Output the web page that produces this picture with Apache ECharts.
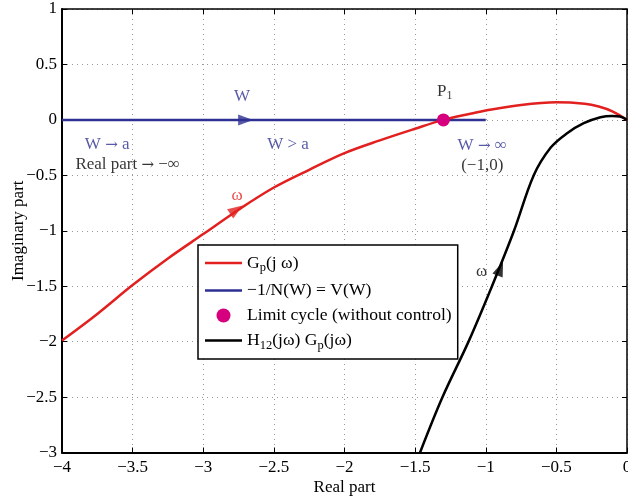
<!DOCTYPE html>
<html>
<head>
<meta charset="utf-8">
<script src="https://cdn.jsdelivr.net/npm/echarts@6/dist/echarts.min.js"></script>
<style>
	html, body { margin: 0; padding: 0; background: #fff; }
	#chart { width: 628px; height: 498px; }
</style>
</head>
<body>
<div id="chart"></div>
<script>
// 曲线数据 (实部, 虚部)
var gpData = [[-4, -1.99], [-3.75, -1.75], [-3.5, -1.49], [-3.25, -1.25], [-3, -1.03], [-2.75, -0.81],
	[-2.5, -0.61], [-2.25, -0.45], [-2, -0.30], [-1.75, -0.185], [-1.5, -0.08], [-1.3, 0], [-1.1, 0.058],
	[-1, 0.085], [-0.75, 0.135], [-0.5, 0.158], [-0.3, 0.145], [-0.2, 0.12], [-0.1, 0.075], [0, 0]];
var vwData = [[-4, 0], [-1, 0]];
var limitCycle = [[-1.3, 0]];
var hgData = [[-1.465, -3], [-1.306, -2.5], [-1.122, -2], [-0.956, -1.5], [-0.80, -1], [-0.66, -0.5],
	[-0.54, -0.25], [-0.424, -0.12], [-0.306, -0.03], [-0.188, 0.024], [-0.105, 0.036], [-0.05, 0.03], [0, 0]];

// 方向箭头位置
var gpArrow = [-2.765, -0.81];
var vwArrow = [-2.70, 0];
var hgArrow = [-0.897, -1.34];

// 标注文字
var notes = [
	{text: 'W', pos: [-2.725, 0.207], color: '#2e3192'},
	{text: 'W {a|→} a', pos: [-3.68, -0.225], color: '#2e3192'},
	{text: 'Real part {a|→} −∞', pos: [-3.535, -0.405], color: '#000'},
	{text: 'W > a', pos: [-2.40, -0.225], color: '#2e3192'},
	{text: 'W {a|→} ∞', pos: [-1.025, -0.235], color: '#2e3192'},
	{text: '(−1,0)', pos: [-1.025, -0.415], color: '#000'},
	{text: 'ω', pos: [-2.76, -0.685], color: '#e2201f'},
	{text: 'ω', pos: [-1.03, -1.37], color: '#000'},
	{text: '{n|P}{s|1}', pos: [-1.29, 0.26], color: '#000'}
];

// 坐标刻度
var xMin = -4, xMax = 0, yMin = -3, yMax = 1, step = 0.5;

var FONT = '"Liberation Serif", "DejaVu Serif", serif';
var FS = 17;
var RED = '#e2201f', BLUE = '#2e3192', MAG = '#d6007f';

function fmt(v) {
	return String(v).replace('-', '−');
}

var richSub = {
	n: {fontFamily: FONT, fontSize: 17.6, color: '#000'},
	s: {fontFamily: FONT, fontSize: 12.5, color: '#000', padding: [10, 0, 0, 0]}
};

var legendText = {
	'Gp': '{n|G}{s|p}{n|(j ω)}',
	'V': '{n|−1/N(W) = V(W)}',
	'LC': '{n|Limit cycle (without control)}',
	'H': '{n|H}{s|12}{n|(jω) G}{s|p}{n|(jω)}'
};

// 图例里的线段图标 (两角的小点只是撑开范围)
var lineIcon = 'path://M0,0 L0.01,0 L0.01,0.01 Z M0,5.8 L37,5.8 L37,8.2 L0,8.2 Z M36.99,13.99 L37,13.99 L37,14 Z';

var myChart = echarts.init(document.getElementById('chart'));

var axisBase = {
	type: 'value',
	interval: step,
	nameMoveOverlap: false,
	axisLine: {show: true, onZero: false, lineStyle: {color: '#000', width: 2}},
	axisTick: {show: true, inside: true, length: 5, lineStyle: {color: '#000', width: 1}},
	splitLine: {show: true, lineStyle: {color: '#999', type: [1, 4], width: 1}},
	axisLabel: {color: '#000', fontFamily: FONT, fontSize: FS, formatter: fmt},
	nameTextStyle: {color: '#000', fontFamily: FONT, fontSize: FS}
};

function axis(extra) {
	return Object.assign({}, axisBase, extra);
}

var option = {
	animation: false,
	textStyle: {fontFamily: FONT},
	grid: {left: 62, top: 9, right: 1, bottom: 45.5, outerBoundsMode: 'none', containLabel: false},
	xAxis: [
		axis({
			min: xMin, max: xMax, position: 'bottom',
			name: 'Real part', nameLocation: 'middle', nameGap: 27,
			axisLabel: Object.assign({}, axisBase.axisLabel, {margin: 7})
		}),
		axis({
			min: xMin, max: xMax, position: 'top',
			axisLine: {show: true, onZero: false, lineStyle: {color: '#000', width: 1.5}},
			axisLabel: {show: false}, splitLine: {show: false}
		})
	],
	yAxis: [
		axis({
			min: yMin, max: yMax, position: 'left',
			name: 'Imaginary part', nameLocation: 'middle', nameGap: 35,
			axisLabel: Object.assign({}, axisBase.axisLabel, {margin: 5})
		}),
		axis({
			min: yMin, max: yMax, position: 'right',
			axisLine: {show: true, onZero: false, lineStyle: {color: '#000', width: 1.5}},
			axisLabel: {show: false}, splitLine: {show: false}
		})
	],
	legend: {
		orient: 'vertical',
		left: 198,
		top: 245,
		padding: [9, 6, 7, 7],
		itemGap: 7,
		itemWidth: 37,
		itemHeight: 14,
		backgroundColor: '#fff',
		borderColor: '#000',
		borderWidth: 1.5,
		borderRadius: 0,
		data: [
			{name: 'Gp', icon: lineIcon},
			{name: 'V', icon: lineIcon},
			{name: 'LC', icon: 'circle'},
			{name: 'H', icon: lineIcon}
		],
		formatter: function(name) {
			return legendText[name];
		},
		textStyle: {rich: richSub, color: '#000'}
	},
	series: [
		{
			id: 'gp', name: 'Gp', type: 'line', data: gpData, smooth: 0.35, symbol: 'none',
			lineStyle: {color: RED, width: 2.5}, itemStyle: {color: RED}, z: 3
		},
		{
			id: 'vw', name: 'V', type: 'line', data: vwData, symbol: 'none',
			lineStyle: {color: BLUE, width: 2.5}, itemStyle: {color: BLUE}, z: 2
		},
		{
			id: 'hg', name: 'H', type: 'line', data: hgData, smooth: 0.35, symbol: 'none',
			lineStyle: {color: '#000', width: 2.5}, itemStyle: {color: '#000'}, z: 3
		},
		{
			id: 'lc', name: 'LC', type: 'scatter', data: limitCycle, symbol: 'circle', symbolSize: 13,
			itemStyle: {color: MAG, opacity: 1}, z: 5
		},
		{
			id: 'notes', name: 'notes', type: 'scatter', symbolSize: 0, silent: true, z: 6,
			data: notes.map(function(n) {
				return {
					value: n.pos,
					label: {
						show: true, position: 'inside', formatter: n.text,
						color: n.color, fontFamily: FONT, fontSize: FS,
						rich: {
							n: {fontFamily: FONT, fontSize: FS, color: n.color},
							s: {fontFamily: FONT, fontSize: 12, color: n.color, padding: [10, 0, 0, 0]},
							a: {fontFamily: '"DejaVu Serif", serif', fontSize: 15, color: n.color}
						}
					}
				};
			})
		},
		{
			id: 'arrows', name: 'arrows', type: 'scatter', symbol: 'triangle', z: 4, data: []
		}
	]
};
myChart.setOption(option);

// 根据相邻两点在像素里的方向求三角形的旋转角
function arrowAngle(a, b) {
	var p1 = myChart.convertToPixel({gridIndex: 0}, a);
	var p2 = myChart.convertToPixel({gridIndex: 0}, b);
	var ang = Math.atan2(p1[1] - p2[1], p2[0] - p1[0]) * 180 / Math.PI;
	return ang - 90;
}

// 箭头, 方向跟着曲线走
myChart.setOption({
	series: [{
		id: 'arrows',
		data: [
			{value: gpArrow, symbolSize: [11, 15], symbolRotate: arrowAngle([-3, -1.03], [-2.5, -0.61]), itemStyle: {color: RED}},
			{value: vwArrow, symbolSize: [11, 15], symbolRotate: -90, itemStyle: {color: BLUE}},
			{value: hgArrow, symbolSize: [11, 15], symbolRotate: arrowAngle([-0.956, -1.5], [-0.80, -1]), itemStyle: {color: '#000'}}
		]
	}]
});
</script>
</body>
</html>
